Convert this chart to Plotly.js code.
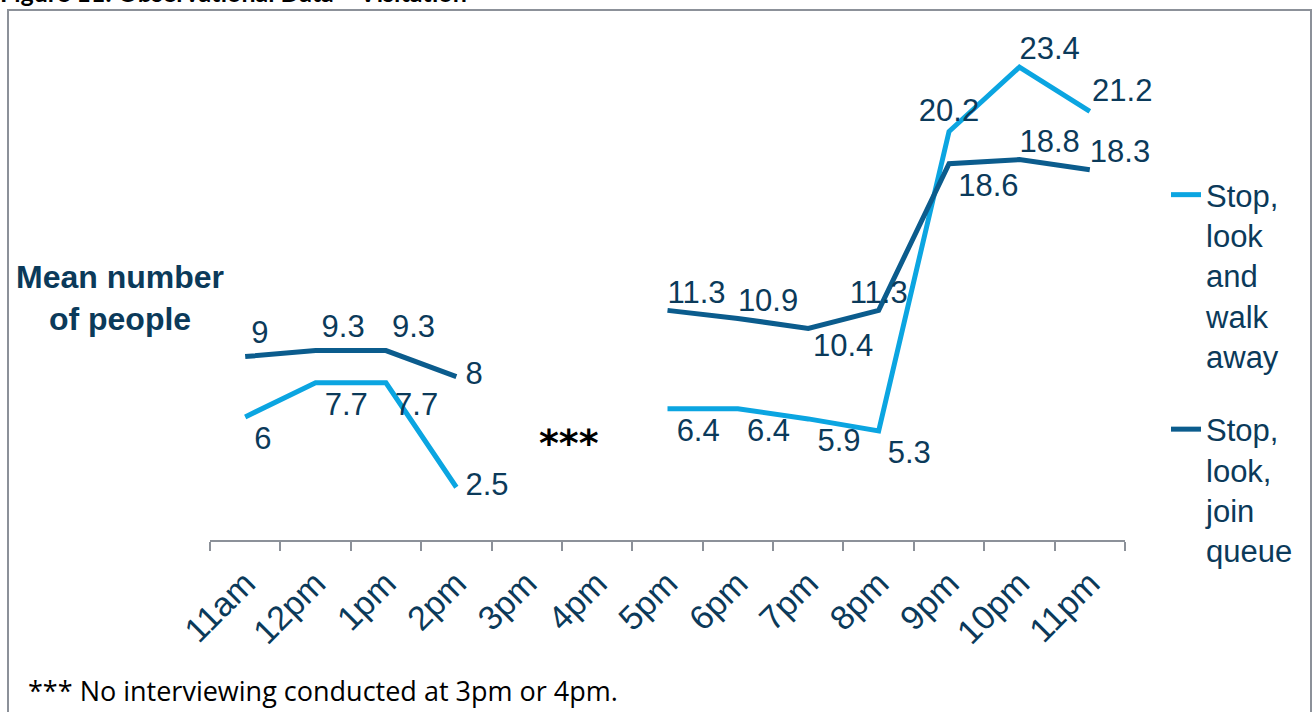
<!DOCTYPE html>
<html>
<head>
<meta charset="utf-8">
<script src="https://cdn.plot.ly/plotly-3.0.1.min.js"></script>
<style>
  html, body { margin: 0; padding: 0; background: #ffffff; }
  #chart { width: 1313px; height: 712px; }
</style>
</head>
<body>
<div id="chart"></div>
<script>
// Hourly observation slots
const hours = ['11am', '12pm', '1pm', '2pm', '3pm', '4pm', '5pm', '6pm', '7pm', '8pm', '9pm', '10pm', '11pm'];

// Mean number of people per hour (no observation at 3pm and 4pm)
const walkAway = [6, 7.7, 7.7, 2.5, null, null, 6.4, 6.4, 5.9, 5.3, 20.2, 23.4, 21.2];
const joinQueue = [9, 9.3, 9.3, 8, null, null, 11.3, 10.9, 10.4, 11.3, 18.6, 18.8, 18.3];

// Where each value label sits relative to its point
const walkAwayLabelPos = ['bottom right', 'bottom right', 'bottom right', 'middle right', 'top center', 'top center',
  'bottom right', 'bottom right', 'bottom right', 'bottom right', 'top center', 'top right', 'top right'];
const joinQueueLabelPos = ['top right', 'top right', 'top right', 'middle right', 'top center', 'top center',
  'top right', 'top right', 'bottom right', 'top center', 'bottom right', 'top right', 'top right'];

// Spacing between each label and its point (invisible marker diameter, px)
const walkAwayLabelGap = [13, 13, 13, 13, 0, 0, 13, 13, 13, 13, 2, 0, 2];
const joinQueueLabelGap = [8, 8, 8, 13, 0, 0, 0, 0, 6, 0, 13, 0, 0];

const seriesNames = ['Stop,<br>look<br>and<br>walk<br>away', 'Stop,<br>look,<br>join<br>queue'];

const NAVY = '#0B3A5A';
const LIGHT = '#0BA5E1';
const DARK = '#0B5C8D';
const AXIS_GREY = '#8C9199';
const FONT = 'Liberation Sans, Arial, sans-serif';

const fmt = v => (v === null ? '' : v.toFixed(v % 1 === 0 ? 0 : 1));

const hiddenMarker = gap => ({ size: gap, opacity: 0, color: 'rgba(0,0,0,0)', line: { width: 0 } });

const traces = [
  {
    x: hours, y: walkAway, name: seriesNames[0], legendgroup: 'a',
    type: 'scatter', mode: 'lines+markers+text', connectgaps: false, cliponaxis: false,
    line: { color: LIGHT, width: 5 },
    marker: hiddenMarker(walkAwayLabelGap),
    text: walkAway.map(fmt), textposition: walkAwayLabelPos,
    textfont: { family: FONT, size: 31, color: NAVY },
    hoverinfo: 'skip'
  },
  {
    x: hours, y: joinQueue, name: seriesNames[1], legendgroup: 'b',
    type: 'scatter', mode: 'lines+markers+text', connectgaps: false, cliponaxis: false,
    line: { color: DARK, width: 5 },
    marker: hiddenMarker(joinQueueLabelGap),
    text: joinQueue.map(fmt), textposition: joinQueueLabelPos,
    textfont: { family: FONT, size: 31, color: NAVY },
    hoverinfo: 'skip'
  }
];

// Plot area in pixels: x 210..1125, y 37..540
const L = 210, R = 1125, T = 37, B = 540, W = 1313, H = 712;
const px = x => (x - L) / (R - L);
const py = y => (B - y) / (B - T);

const layout = {
  width: W, height: H,
  margin: { l: L, r: W - R, t: T, b: H - B, pad: 0 },
  paper_bgcolor: '#ffffff', plot_bgcolor: '#ffffff',
  font: { family: FONT, color: NAVY, size: 30 },
  showlegend: true,
  legend: {
    x: px(1166), xanchor: 'left', y: py(168), yanchor: 'top',
    valign: 'top', tracegroupgap: 30, traceorder: 'grouped',
    font: { family: FONT, size: 31, color: NAVY },
    bgcolor: 'rgba(0,0,0,0)', borderwidth: 0
  },
  xaxis: {
    type: 'category', range: [-0.5, 12.5],
    showgrid: false, zeroline: false,
    showline: true, linecolor: AXIS_GREY, linewidth: 2,
    ticks: 'outside', tickson: 'boundaries', ticklen: 9, tickwidth: 2, tickcolor: AXIS_GREY,
    tickangle: -45, ticklabelstandoff: 8,
    tickfont: { family: FONT, size: 34, color: NAVY },
    fixedrange: true
  },
  yaxis: {
    range: [-0.124, 24.9], visible: false, fixedrange: true
  },
  shapes: [
    {
      type: 'rect', xref: 'paper', yref: 'paper',
      x0: px(8), x1: px(1311), y0: py(760), y1: py(10),
      line: { color: AXIS_GREY, width: 2 }, fillcolor: 'rgba(0,0,0,0)', layer: 'below'
    }
  ],
  annotations: [
    {
      text: '<b>Figure 11: Observational Data – Visitation</b>',
      xref: 'paper', yref: 'paper', x: px(-2), y: py(-8), xanchor: 'left', yanchor: 'middle',
      showarrow: false, font: { family: 'Lato, Open Sans, sans-serif', size: 25, color: '#000000' }
    },
    {
      text: '<b>Mean number<br>of people</b>',
      xref: 'paper', yref: 'paper', x: px(120), y: py(298), xanchor: 'center', yanchor: 'middle',
      showarrow: false, align: 'center',
      font: { family: FONT, size: 32, color: NAVY }
    },
    {
      text: '<b>***</b>',
      xref: 'x', yref: 'y', x: 4.6, y: 4.7, xanchor: 'center', yanchor: 'middle',
      showarrow: false, font: { family: 'DejaVu Sans, sans-serif', size: 38, color: '#000000' }
    },
    {
      text: '*** No interviewing conducted at 3pm or 4pm.',
      xref: 'paper', yref: 'paper', x: px(26), y: py(690), xanchor: 'left', yanchor: 'middle',
      showarrow: false, font: { family: 'Open Sans, sans-serif', size: 27, color: '#000000' }
    }
  ]
};

Plotly.newPlot('chart', traces, layout, { displayModeBar: false, staticPlot: true });
</script>
</body>
</html>
